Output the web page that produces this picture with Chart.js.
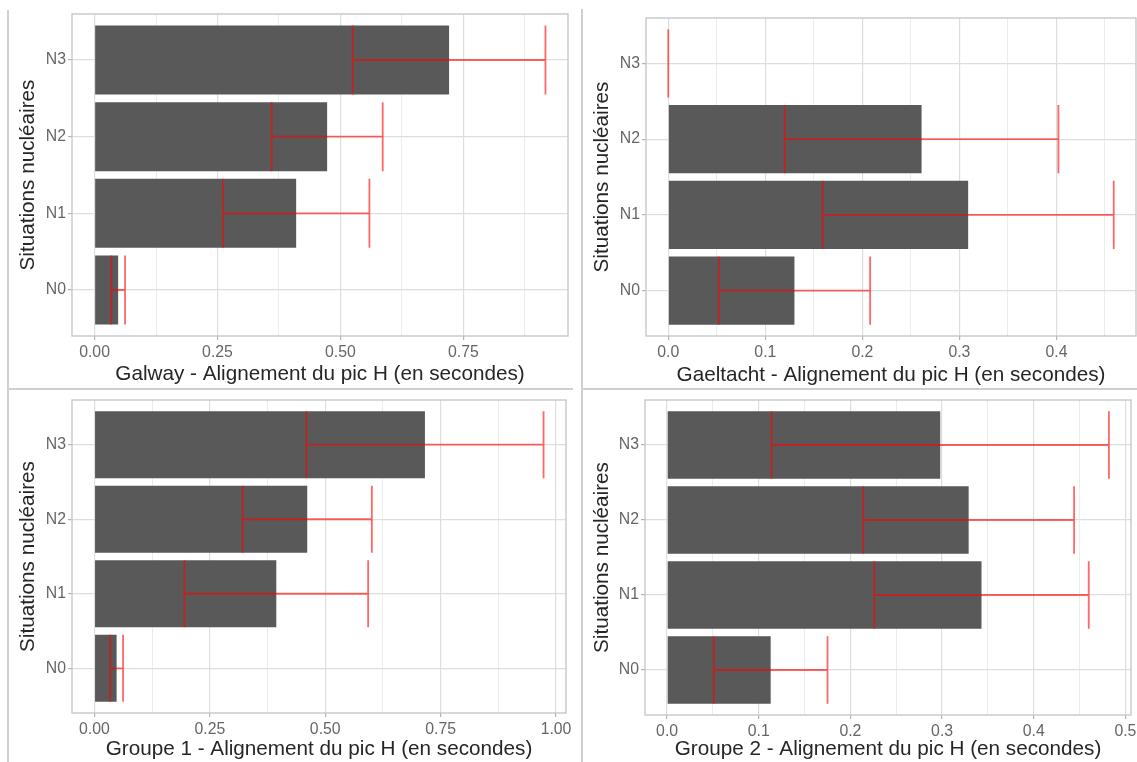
<!DOCTYPE html>
<html lang="fr">
<head>
<meta charset="utf-8">
<title>Alignement du pic H</title>
<script src="https://cdn.jsdelivr.net/npm/chart.js@4.4.1/dist/chart.umd.min.js"></script>
<style>
  body { margin: 0; background: #fff; width: 1137px; height: 762px; position: relative; overflow: hidden; }
  canvas { position: absolute; }
  .trait { position: absolute; background: #cfcfcf; }
</style>
</head>
<body>
<div class="trait" style="left:7px;top:10px;width:2px;height:752px"></div>
<div class="trait" style="left:7px;top:388px;width:566px;height:2px"></div>
<div class="trait" style="left:581px;top:9px;width:2px;height:753px"></div>
<div class="trait" style="left:581px;top:388px;width:556px;height:2px"></div>

<canvas id="galway" width="565" height="378" style="left:10px;top:10px"></canvas>
<canvas id="gaeltacht" width="553" height="378" style="left:584px;top:10px"></canvas>
<canvas id="groupe1" width="565" height="372" style="left:10px;top:390px"></canvas>
<canvas id="groupe2" width="553" height="372" style="left:584px;top:390px"></canvas>

<script>
// situations nucléaires, de haut en bas
const situations = ['N3', 'N2', 'N1', 'N0'];

// Galway : moyenne et écart-type (en secondes)
const galwayMoyenne = [0.721, 0.473, 0.410, 0.048];
const galwayEcart = [0.196, 0.113, 0.149, 0.014];

// Gaeltacht
const gaeltachtMoyenne = [0, 0.261, 0.309, 0.130];
const gaeltachtEcart = [0, 0.141, 0.150, 0.078];

// Groupe 1
const groupe1Moyenne = [0.716, 0.461, 0.394, 0.048];
const groupe1Ecart = [0.257, 0.140, 0.199, 0.014];

// Groupe 2
const groupe2Moyenne = [0.298, 0.329, 0.343, 0.113];
const groupe2Ecart = [0.184, 0.115, 0.117, 0.062];

// graduations de l'axe x
const ticksQuart = [0, 0.25, 0.5, 0.75];
const ticksQuartMineurs = [0.125, 0.375, 0.625, 0.875];
const ticksQuartLabels = ['0.00', '0.25', '0.50', '0.75'];
const ticksUnite = [0, 0.25, 0.5, 0.75, 1];
const ticksUniteMineurs = [0.125, 0.375, 0.625, 0.875];
const ticksUniteLabels = ['0.00', '0.25', '0.50', '0.75', '1.00'];
const ticksDixieme4 = [0, 0.1, 0.2, 0.3, 0.4];
const ticksDixieme5 = [0, 0.1, 0.2, 0.3, 0.4, 0.5];
const ticksDixiemeMineurs = [0.05, 0.15, 0.25, 0.35, 0.45];
const ticksDixieme4Labels = ['0.0', '0.1', '0.2', '0.3', '0.4'];
const ticksDixieme5Labels = ['0.0', '0.1', '0.2', '0.3', '0.4', '0.5'];

Chart.defaults.font.family = '"Liberation Sans", Arial, sans-serif';

// cadre gris autour du panneau
const cadrePanneau = {
  id: 'cadrePanneau',
  afterDraw(chart) {
    const { ctx, chartArea: a } = chart;
    ctx.save();
    ctx.strokeStyle = '#c4c4c4';
    ctx.lineWidth = 1.3;
    ctx.strokeRect(a.left, a.top, a.right - a.left, a.bottom - a.top);
    ctx.restore();
  }
};

// barres d'erreur rouges (moyenne +/- écart-type)
const barresErreur = {
  id: 'barresErreur',
  afterDatasetsDraw(chart, args, opts) {
    const { ctx, scales: { x, y } } = chart;
    const meta = chart.getDatasetMeta(0);
    const points = chart.data.datasets[0].data;
    ctx.save();
    ctx.strokeStyle = 'rgba(255, 0, 0, 0.6)';
    ctx.lineWidth = 1.8;
    points.forEach((p, i) => {
      const e = opts.ecarts[i];
      const x1 = x.getPixelForValue(p.x - e);
      const x2 = x.getPixelForValue(p.x + e);
      const yc = y.getPixelForValue(p.y);
      const h = meta.data[i].height / 2;
      ctx.beginPath();
      ctx.moveTo(x1, yc - h); ctx.lineTo(x1, yc + h);
      ctx.moveTo(x2, yc - h); ctx.lineTo(x2, yc + h);
      ctx.moveTo(x1, yc); ctx.lineTo(x2, yc);
      ctx.stroke();
    });
    ctx.restore();
  }
};

function dessinerGraphique(id, titre, moyennes, ecarts, graduations, mineurs, labels, cadre) {
  const hautMax = Math.max(...moyennes.map((m, i) => m + ecarts[i]));
  const estMajeur = v => graduations.includes(v);
  const ctx = document.getElementById(id).getContext('2d');
  new Chart(ctx, {
    type: 'bar',
    data: {
      datasets: [{
        data: moyennes.map((m, i) => ({ x: m, y: i })),
        backgroundColor: '#595959',
        borderWidth: 0,
        categoryPercentage: 0.9,
        barPercentage: 1
      }]
    },
    options: {
      indexAxis: 'y',
      responsive: false,
      animation: false,
      layout: { padding: { top: cadre.haut, right: cadre.droite, left: 0, bottom: 0 } },
      plugins: {
        legend: { display: false },
        tooltip: { enabled: false },
        barresErreur: { ecarts: ecarts }
      },
      scales: {
        x: {
          type: 'linear',
          min: -0.05 * hautMax,
          max: 1.05 * hautMax,
          afterBuildTicks: s => {
            s.ticks = [...graduations, ...mineurs].sort((a, b) => a - b).map(v => ({ value: v }));
          },
          afterFit: s => {
            s.height = cadre.hauteurX;
            s.paddingLeft = 0;
            s.paddingRight = 0;
          },
          ticks: {
            autoSkip: false,
            maxRotation: 0,
            padding: 3,
            color: '#666',
            font: { size: 15.8 },
            callback: v => estMajeur(v) ? labels[graduations.indexOf(v)] : ''
          },
          grid: {
            color: c => estMajeur(c.tick.value) ? '#dedede' : '#ececec',
            lineWidth: c => estMajeur(c.tick.value) ? 1.2 : 1,
            tickLength: 4,
            tickColor: c => estMajeur(c.tick.value) ? '#b3b3b3' : 'rgba(0,0,0,0)'
          },
          border: { display: false },
          title: {
            display: true,
            text: titre,
            color: '#262626',
            font: { size: 20.7 },
            padding: { top: 0, bottom: cadre.titreBas }
          }
        },
        y: {
          type: 'linear',
          reverse: true,
          offset: false,
          min: -0.6,
          max: situations.length - 0.4,
          afterBuildTicks: s => {
            s.ticks = situations.map((_, i) => ({ value: i }));
          },
          afterFit: s => {
            s.width = cadre.largeurY;
            s.paddingTop = 0;
            s.paddingBottom = 0;
          },
          ticks: {
            autoSkip: false,
            padding: 2,
            color: '#666',
            font: { size: 15.8 },
            callback: v => situations[v]
          },
          grid: { offset: false, color: '#dedede', lineWidth: 1.2, tickLength: 4, tickColor: '#b3b3b3' },
          border: { display: false },
          title: {
            display: true,
            text: 'Situations nucléaires',
            color: '#262626',
            font: { size: 20.7 },
            padding: { top: 6, bottom: 0 }
          }
        }
      }
    },
    plugins: [barresErreur, cadrePanneau]
  });
}

dessinerGraphique('galway', 'Galway - Alignement du pic H (en secondes)',
  galwayMoyenne, galwayEcart, ticksQuart, ticksQuartMineurs, ticksQuartLabels,
  { haut: 4, droite: 7, largeurY: 62, hauteurX: 52, titreBas: 1 });

dessinerGraphique('gaeltacht', 'Gaeltacht - Alignement du pic H (en secondes)',
  gaeltachtMoyenne, gaeltachtEcart, ticksDixieme4, ticksDixiemeMineurs, ticksDixieme4Labels,
  { haut: 8, droite: 1, largeurY: 62, hauteurX: 52, titreBas: 0 });

dessinerGraphique('groupe1', 'Groupe 1 - Alignement du pic H (en secondes)',
  groupe1Moyenne, groupe1Ecart, ticksUnite, ticksUniteMineurs, ticksUniteLabels,
  { haut: 10, droite: 9, largeurY: 62, hauteurX: 49, titreBas: 0 });

dessinerGraphique('groupe2', 'Groupe 2 - Alignement du pic H (en secondes)',
  groupe2Moyenne, groupe2Ecart, ticksDixieme5, ticksDixiemeMineurs, ticksDixieme5Labels,
  { haut: 10, droite: 6, largeurY: 61, hauteurX: 47, titreBas: 0 });
</script>
</body>
</html>
